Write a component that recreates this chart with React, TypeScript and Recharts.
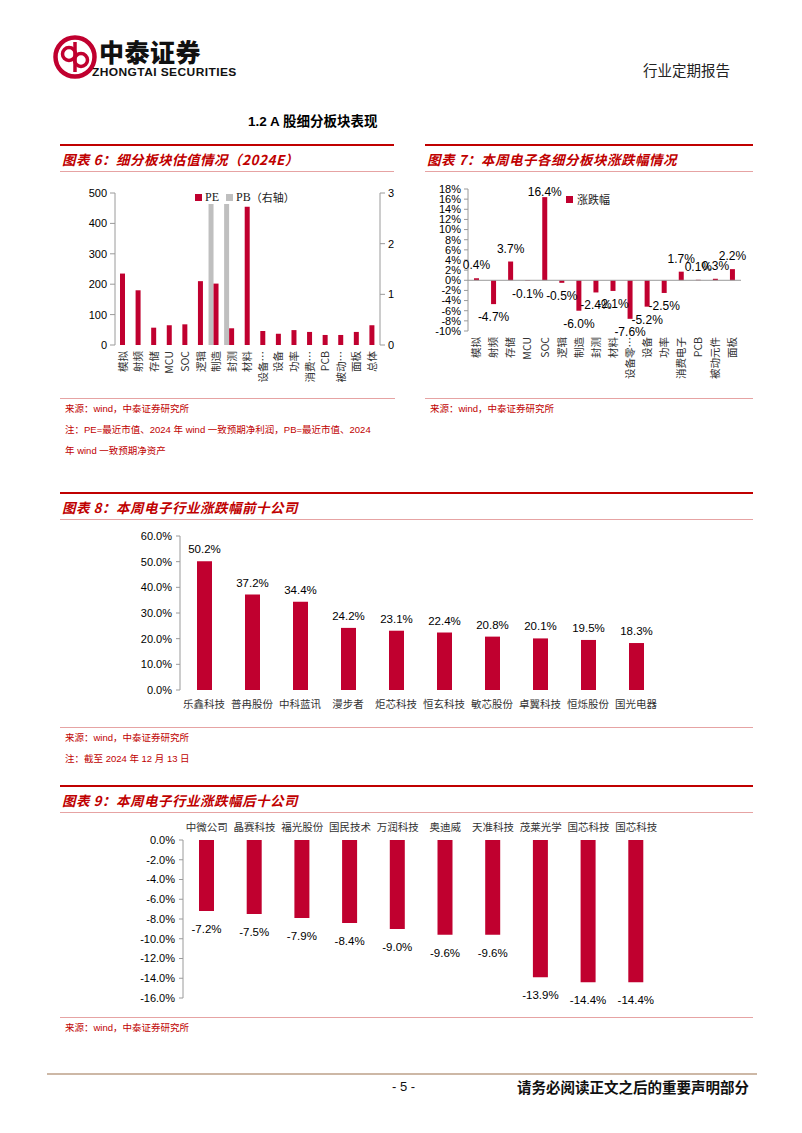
import React from 'react'
import { BarChart, Bar, XAxis, YAxis, LabelList, Legend, ReferenceLine, Rectangle } from 'recharts'

const RED = '#C0002F'
const TITLE_RED = '#C00000'
const PINK = '#E6A3A3'
const AXIS = '#9a9a9a'
const NUM = '"Liberation Sans", Arial, "Noto Sans CJK SC", sans-serif'
const CJK = '"Noto Sans CJK SC", "Liberation Sans", sans-serif'

// 图表6：细分板块估值情况（2024E）
const sectors6 = ['模拟', '射频', '存储', 'MCU', 'SOC', '逻辑', '制造', '封测', '材料', '设备…', '设备', '功率', '消费…', 'PCB', '被动…', '面板', '总体']
const pe6 = [235, 180, 57, 65, 68, 210, 202, 55, 455, 46, 37, 49, 43, 33, 33, 43, 65]
const pb6 = [null, null, null, null, null, null, 2.9, 2.9, null, null, null, null, null, null, null, null, null]
const peTicks = [0, 100, 200, 300, 400, 500]
const pbTicks = [0, 1, 2, 3]

// 图表7：本周电子各细分板块涨跌幅情况
const sectors7 = ['模拟', '射频', '存储', 'MCU', 'SOC', '逻辑', '制造', '封测', '材料', '设备零…', '设备', '功率', '消费电子', 'PCB', '被动元件', '面板']
const chg7 = [0.4, -4.7, 3.7, -0.1, 16.4, -0.5, -6.0, -2.4, -2.1, -7.6, -5.2, -2.5, 1.7, 0.1, 0.3, 2.2]
const chgTicks = [-10, -8, -6, -4, -2, 0, 2, 4, 6, 8, 10, 12, 14, 16, 18]

// 图表8：本周电子行业涨跌幅前十公司
const top10 = ['乐鑫科技', '普冉股份', '中科蓝讯', '漫步者', '炬芯科技', '恒玄科技', '敏芯股份', '卓翼科技', '恒烁股份', '国光电器']
const topChg = [50.2, 37.2, 34.4, 24.2, 23.1, 22.4, 20.8, 20.1, 19.5, 18.3]
const topTicks = [0, 10, 20, 30, 40, 50, 60]

// 图表9：本周电子行业涨跌幅后十公司
const bottom10 = ['中微公司', '晶赛科技', '福光股份', '国民技术', '万润科技', '奥迪威', '天准科技', '茂莱光学', '国芯科技', '国芯科技']
const bottomChg = [-7.2, -7.5, -7.9, -8.4, -9.0, -9.6, -9.6, -13.9, -14.4, -14.4]
const bottomTicks = [0, -2, -4, -6, -8, -10, -12, -14, -16]

const data6 = sectors6.map((name, i) => ({ name, pe: pe6[i], pb: pb6[i] }))
const data7 = sectors7.map((name, i) => ({ name, chg: chg7[i] }))
const data8 = top10.map((name, i) => ({ name, chg: topChg[i] }))
const data9 = bottom10.map((name, i) => ({ name, chg: bottomChg[i] }))

// boundaries between categories, for Excel-style tick marks
const bounds = (n: number) => Array.from({ length: n + 1 }, (_, i) => i)

const tickFont = { fontSize: 11, fill: '#000', fontFamily: NUM }

const VTick = ({ x, y, payload }: any) => (
  <text
    transform={`rotate(-90 ${x} ${y})`}
    x={x}
    y={y}
    dy="0.36em"
    textAnchor="end"
    fontSize={10.5}
    fontFamily={CJK}
    fill="#333"
  >
    {payload.value}
  </text>
)

const HTick = ({ x, y, payload, dy }: any) => (
  <text x={x} y={y} dy={dy} textAnchor="middle" fontSize={10.5} fontFamily={CJK} fill="#333">
    {payload.value}
  </text>
)

const ShiftLeft = (props: any) => <Rectangle {...props} x={props.x - props.width} />

const ChgLabel = (p: any) => {
  const { x, y, width, height } = p
  const v = Number(p.value)
  const top = Math.min(y, y + height)
  const bottom = Math.max(y, y + height)
  // keep the tallest label inside the chart area, as Excel does
  const ty = v < 0 ? bottom + 17 : Math.max(top - 9, 18)
  return (
    <text x={x + width / 2} y={ty} textAnchor="middle" fontSize={12} fontFamily={NUM} fill="#000">
      {v.toFixed(1)}%
    </text>
  )
}

const DropLabel = (p: any) => {
  const { x, y, width, height } = p
  const bottom = Math.max(y, y + height)
  return (
    <text x={x + width / 2} y={bottom + 22} textAnchor="middle" fontSize={11.5} fontFamily={NUM} fill="#000">
      {Number(p.value).toFixed(1)}%
    </text>
  )
}

const Legend6 = () => (
  <div style={{ display: 'flex', alignItems: 'center', background: '#fff', padding: '0 3px', whiteSpace: 'nowrap', lineHeight: '14px', fontSize: 12, fontFamily: '"Liberation Serif", "Noto Sans CJK SC", serif', color: '#222' }}>
    <span style={{ display: 'inline-block', width: 7, height: 7, background: RED, marginRight: 3 }} />
    PE
    <span style={{ display: 'inline-block', width: 7, height: 7, background: '#BFBFBF', margin: '0 3px 0 7px' }} />
    PB<span style={{ fontSize: 11, fontFamily: CJK }}>（右轴）</span>
  </div>
)

const Legend7 = () => (
  <div style={{ display: 'flex', alignItems: 'center', whiteSpace: 'nowrap', lineHeight: '14px', fontSize: 11, fontFamily: CJK, color: '#222' }}>
    <span style={{ display: 'inline-block', width: 7, height: 7, background: RED, marginRight: 4 }} />
    涨跌幅
  </div>
)

const abs = (left: number, top: number, extra: any = {}) => ({ position: 'absolute' as const, left, top, ...extra })

const PanelHead = ({ x, w, y, title }: { x: number; w: number; y: number; title: string }) => (
  <>
    <div style={abs(x, y, { width: w, height: 2, background: TITLE_RED })} />
    <div style={abs(x + 2, y + 6, { fontSize: 13.5, lineHeight: '18px', fontWeight: 700, fontStyle: 'italic', color: TITLE_RED, fontFamily: CJK, letterSpacing: 0.5, whiteSpace: 'nowrap' })}>
      {title}
    </div>
    <div style={abs(x, y + 27, { width: w, height: 1, background: PINK })} />
  </>
)

const SourceLine = ({ x, w, y, lines }: { x: number; w: number; y: number; lines: string[] }) => (
  <>
    <div style={abs(x, y, { width: w, height: 1, background: PINK })} />
    {lines.map((t, i) => (
      <div key={i} style={abs(x + 5, y + 4 + i * 21, { fontSize: 9.5, lineHeight: '14px', color: TITLE_RED, fontFamily: NUM, whiteSpace: 'nowrap' })}>
        {t}
      </div>
    ))}
  </>
)

export default function App() {
  return (
    <div style={{ position: 'absolute', left: 0, top: 0, width: 802, height: 1133, background: '#fff', overflow: 'hidden', fontFamily: CJK }}>
      {/* header */}
      <svg style={abs(53, 35)} width={44} height={44} viewBox="0 0 44 44">
        <circle cx={22} cy={22} r={19.5} fill="none" stroke={RED} strokeWidth={4.5} />
        <circle cx={16} cy={19} r={6.5} fill="none" stroke={RED} strokeWidth={3.5} />
        <circle cx={28} cy={25} r={6.5} fill="none" stroke={RED} strokeWidth={3.5} />
        <line x1={22} y1={7} x2={22} y2={37} stroke={RED} strokeWidth={3.5} />
      </svg>
      <div style={abs(99, 36, { fontSize: 25, fontWeight: 900, lineHeight: '30px', color: '#111', letterSpacing: 0.5 })}>中泰证券</div>
      <div style={abs(92, 66, { fontSize: 12, fontWeight: 700, lineHeight: '12px', color: '#111', fontFamily: NUM, letterSpacing: 0.4, transform: 'scaleY(0.9)' })}>ZHONGTAI SECURITIES</div>
      <div style={abs(643, 61, { fontSize: 14.5, lineHeight: '18px', color: '#222' })}>行业定期报告</div>

      <div style={abs(248, 113, { fontSize: 13.5, fontWeight: 700, lineHeight: '18px', color: '#000', fontFamily: NUM, whiteSpace: 'nowrap' })}>
        1.2 A 股细分板块表现
      </div>

      {/* 图表6 */}
      <PanelHead x={60} w={334} y={144} title="图表 6：细分板块估值情况（2024E）" />
      <div style={abs(60, 180)}>
        <BarChart width={345} height={215} data={data6} margin={{ top: 13, right: 0, bottom: 0, left: 0 }}>
          <XAxis xAxisId="sep" type="number" domain={[0, sectors6.length]} ticks={bounds(sectors6.length)} allowDataOverflow height={0} tick={false} tickSize={4} stroke={AXIS} />
          <XAxis xAxisId="cat" dataKey="name" height={50} axisLine={false} tickLine={false} tickSize={4} tickMargin={2} interval={0} tick={<VTick />} />
          <XAxis xAxisId="pb" dataKey="name" hide />
          <YAxis yAxisId="left" width={55} domain={[0, 500]} ticks={peTicks} tick={tickFont} tickSize={5} tickMargin={3} stroke={AXIS} />
          <YAxis yAxisId="right" orientation="right" width={25} domain={[0, 3]} ticks={pbTicks} tick={tickFont} tickSize={5} tickMargin={3} stroke={AXIS} allowDataOverflow />
          <Bar xAxisId="pb" yAxisId="right" dataKey="pb" name="PB（右轴）" fill="#BFBFBF" barSize={5} shape={<ShiftLeft />} isAnimationActive={false} />
          <Bar xAxisId="cat" yAxisId="left" dataKey="pe" name="PE" fill={RED} barSize={5} isAnimationActive={false} />
          <Legend verticalAlign="middle" align="center" content={<Legend6 />} wrapperStyle={{ left: 132, top: 10, width: 'auto' }} />
        </BarChart>
      </div>
      <SourceLine x={60} w={335} y={398} lines={['来源：wind，中泰证券研究所', '注：PE=最近市值、2024 年 wind 一致预期净利润，PB=最近市值、2024', '年 wind 一致预期净资产']} />

      {/* 图表7 */}
      <PanelHead x={425} w={328} y={144} title="图表 7：本周电子各细分板块涨跌幅情况" />
      <div style={abs(425, 178)}>
        <BarChart width={330} height={215} data={data7} margin={{ top: 11, right: 14, bottom: 0, left: 0 }}>
          <XAxis dataKey="name" height={62} axisLine={false} tickLine={false} tickSize={4} tickMargin={2} interval={0} tick={<VTick />} />
          <YAxis width={43} domain={[-10, 18]} ticks={chgTicks} interval={0} tickFormatter={(v: number) => `${v}%`} tick={tickFont} tickSize={4} tickMargin={3} stroke={AXIS} />
          <ReferenceLine y={0} stroke={AXIS} />
          <Bar dataKey="chg" name="涨跌幅" fill={RED} barSize={5} isAnimationActive={false}>
            <LabelList dataKey="chg" content={<ChgLabel />} />
          </Bar>
          <Legend verticalAlign="middle" align="center" content={<Legend7 />} wrapperStyle={{ left: 141, top: 14, width: 'auto' }} />
        </BarChart>
      </div>
      <SourceLine x={425} w={328} y={398} lines={['来源：wind，中泰证券研究所']} />

      {/* 图表8 */}
      <PanelHead x={60} w={693} y={492} title="图表 8：本周电子行业涨跌幅前十公司" />
      <div style={abs(100, 525)}>
        <BarChart width={580} height={195} data={data8} margin={{ top: 11, right: 20, bottom: 0, left: 0 }}>
          <XAxis xAxisId="sep" type="number" domain={[0, top10.length]} ticks={bounds(top10.length)} allowDataOverflow height={0} tick={false} tickSize={4} stroke={AXIS} />
          <XAxis xAxisId="cat" dataKey="name" height={30} axisLine={false} tickLine={false} tickSize={4} tickMargin={2} interval={0} tick={<HTick dy={12} />} />
          <YAxis width={80} domain={[0, 60]} ticks={topTicks} tickFormatter={(v: number) => `${v.toFixed(1)}%`} tick={tickFont} tickSize={4} tickMargin={4} stroke={AXIS} />
          <Bar xAxisId="cat" dataKey="chg" fill={RED} barSize={15} isAnimationActive={false}>
            <LabelList dataKey="chg" position="top" offset={8} formatter={(v: any) => `${Number(v).toFixed(1)}%`} style={{ fontSize: 11.5, fill: '#000', fontFamily: NUM }} />
          </Bar>
        </BarChart>
      </div>
      <SourceLine x={60} w={693} y={727} lines={['来源：wind，中泰证券研究所', '注：截至 2024 年 12 月 13 日']} />

      {/* 图表9 */}
      <PanelHead x={60} w={693} y={785} title="图表 9：本周电子行业涨跌幅后十公司" />
      <div style={abs(100, 812)}>
        <BarChart width={580} height={200} data={data9} margin={{ top: 0, right: 20, bottom: 14, left: 0 }}>
          <XAxis xAxisId="sep" orientation="top" type="number" domain={[0, bottom10.length]} ticks={bounds(bottom10.length)} allowDataOverflow height={0} tick={false} tickSize={4} stroke={AXIS} />
          <XAxis xAxisId="cat" orientation="top" dataKey="name" height={28} axisLine={false} tickLine={false} tickSize={4} tickMargin={2} interval={0} tick={<HTick dy={-3} />} />
          <YAxis width={83} domain={[-16, 0]} ticks={bottomTicks} tickFormatter={(v: number) => `${v.toFixed(1)}%`} tick={tickFont} tickSize={4} tickMargin={4} stroke={AXIS} />
          <Bar xAxisId="cat" dataKey="chg" fill={RED} barSize={15} isAnimationActive={false}>
            <LabelList dataKey="chg" content={<DropLabel />} />
          </Bar>
        </BarChart>
      </div>
      <SourceLine x={60} w={693} y={1017} lines={['来源：wind，中泰证券研究所']} />

      {/* footer */}
      <div style={abs(47, 1073, { width: 710, height: 2, background: '#CDB8A6' })} />
      <div style={abs(392, 1079, { fontSize: 13, lineHeight: '16px', color: '#111', fontFamily: NUM })}>- 5 -</div>
      <div style={abs(517, 1078, { fontSize: 14.5, fontWeight: 700, lineHeight: '18px', color: '#111', whiteSpace: 'nowrap' })}>请务必阅读正文之后的重要声明部分</div>
    </div>
  )
}
